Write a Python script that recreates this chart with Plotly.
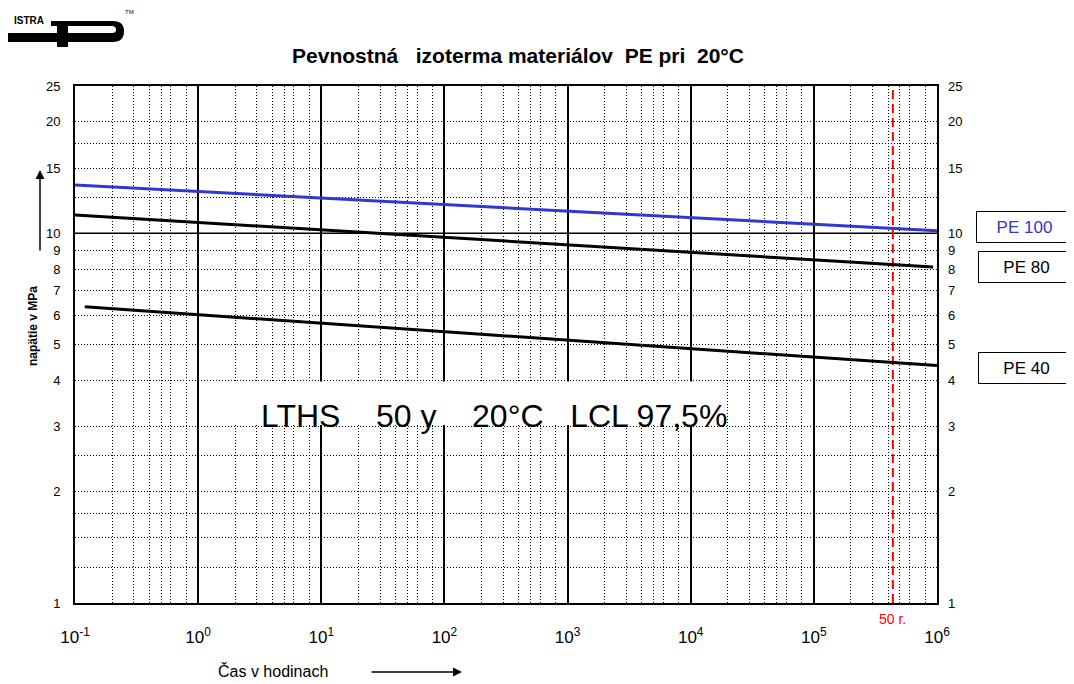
import math
import plotly.graph_objects as go

# ---------------- data ----------------
pe100_time_h = [0.1, 1.0e6]
pe100_stress = [13.5, 10.15]
pe80_time_h = [0.1, 9.3e5]
pe80_stress = [11.2, 8.1]
pe40_time_h = [0.12, 1.15e6]
pe40_stress = [6.32, 4.37]

x_decades = [0.1, 1, 10, 100, 1e3, 1e4, 1e5, 1e6]
x_tick_text = ["10<sup>-1</sup>", "10<sup>0</sup>", "10<sup>1</sup>", "10<sup>2</sup>",
               "10<sup>3</sup>", "10<sup>4</sup>", "10<sup>5</sup>", "10<sup>6</sup>"]
x_minor_mult = [2, 3, 4, 5, 6, 8]
y_tick_vals = [1, 2, 3, 4, 5, 6, 7, 8, 9, 10, 15, 20, 25]
y_tick_text = [str(v) for v in y_tick_vals]
y_dotted_grid = [1.25, 1.5, 1.75, 2, 2.5, 3, 4, 5, 6, 7, 8, 9, 12.5, 15, 17.5, 20]
y_solid_grid = [10]
lifetime_50y_h = 50 * 8760
label_box_x = [1.03, 1.9e4]
label_box_y = [3.03, 3.97]

x_minor = [m * d for d in x_decades[:-1] for m in x_minor_mult]

# ---------------- layout helpers (window pixel -> paper) ----------------
OFF = 8  # default page body margin
W, H = 1074 - OFF, 684 - OFF
L, T = 75 - OFF, 86 - OFF
R, B = 1074 - 937, 684 - 603
PW, PH = W - L - R, H - T - B


def px(x):
    return (x - OFF - L) / PW


def py(y):
    return (H - B - (y - OFF)) / PH


BLUE = "#3535d0"
FONT = "Liberation Sans, Arial, sans-serif"

fig = go.Figure()

# white background behind the LTHS text
fig.add_trace(go.Scatter(
    x=[label_box_x[0], label_box_x[1], label_box_x[1], label_box_x[0], label_box_x[0]],
    y=[label_box_y[0], label_box_y[0], label_box_y[1], label_box_y[1], label_box_y[0]],
    mode="lines", fill="toself", fillcolor="white", line=dict(width=0, color="white"),
    hoverinfo="skip", showlegend=False))

# solid horizontal grid line(s)
for v in y_solid_grid:
    fig.add_trace(go.Scatter(x=[x_decades[0], x_decades[-1]], y=[v, v], mode="lines",
                             line=dict(color="black", width=1.5), hoverinfo="skip",
                             showlegend=False))

# 50 years marker
fig.add_trace(go.Scatter(x=[lifetime_50y_h, lifetime_50y_h], y=[y_tick_vals[0], y_tick_vals[-1]],
                         mode="lines", line=dict(color="red", width=2, dash="9px,5px"),
                         hoverinfo="skip", showlegend=False))

fig.add_trace(go.Scatter(x=pe40_time_h, y=pe40_stress, mode="lines", name="PE 40",
                         line=dict(color="black", width=3), showlegend=False))
fig.add_trace(go.Scatter(x=pe80_time_h, y=pe80_stress, mode="lines", name="PE 80",
                         line=dict(color="black", width=3), showlegend=False))
fig.add_trace(go.Scatter(x=pe100_time_h, y=pe100_stress, mode="lines", name="PE 100",
                         line=dict(color=BLUE, width=3), showlegend=False))

# invisible trace for the right axis
fig.add_trace(go.Scatter(x=[x_decades[0]], y=[y_tick_vals[0]], yaxis="y2", mode="markers",
                         marker=dict(opacity=0), hoverinfo="skip", showlegend=False))

yr = [0, math.log10(y_tick_vals[-1])]

fig.update_layout(
    width=W, height=H,
    margin=dict(l=L, r=R, t=T, b=B, autoexpand=False),
    paper_bgcolor="white", plot_bgcolor="white",
    font=dict(family=FONT, color="black"),
    title=dict(text="Pevnostná\u00a0\u00a0 izoterma materiálov\u00a0 PE pri\u00a0 20°C",
               x=px(518), xref="paper", xanchor="center",
               y=1 - (56 - OFF) / H, yref="container", yanchor="middle",
               font=dict(size=21, family=FONT, color="black", weight="bold")),
    xaxis=dict(type="log", range=[-1, 6], tickmode="array", tickvals=x_decades,
               ticktext=x_tick_text, showgrid=True, gridcolor="black", gridwidth=1.5,
               minor=dict(tickmode="array", tickvals=x_minor, showgrid=True,
                          gridcolor="black", griddash="1px,2px", gridwidth=1, ticks=""),
               showline=True, linecolor="black", linewidth=2, mirror=True, ticks="",
               ticklabelstandoff=18, tickfont=dict(size=17), zeroline=False),
    yaxis=dict(type="log", range=yr, tickmode="array", tickvals=y_tick_vals,
               ticktext=y_tick_text, showgrid=False,
               minor=dict(tickmode="array", tickvals=y_dotted_grid, showgrid=True,
                          gridcolor="black", griddash="1px,2px", gridwidth=1, ticks=""),
               showline=True, linecolor="black", linewidth=2, mirror=True, ticks="",
               ticklabelstandoff=10, tickfont=dict(size=13), zeroline=False),
    yaxis2=dict(type="log", range=yr, overlaying="y", side="right", tickmode="array",
                tickvals=y_tick_vals, ticktext=y_tick_text, showgrid=False,
                showline=False, ticks="", ticklabelstandoff=10,
                tickfont=dict(size=13), zeroline=False),
)

C = dict(xanchor="center", yanchor="middle")
ann = []
# LTHS text
ann.append(dict(text="LTHS\u00a0\u00a0\u00a0 50 y\u00a0\u00a0\u00a0 20°C\u00a0\u00a0 LCL 97,5%",
                xref="paper", yref="paper", x=px(494), y=py(416), showarrow=False,
                font=dict(size=32, color="black", family=FONT), **C))
# 50 r.
ann.append(dict(text="50 r.", xref="x", x=math.log10(lifetime_50y_h), yref="paper", y=py(619),
                showarrow=False, font=dict(size=14, color="red", family=FONT), **C))
# series boxes
for txt, col, xc, yc in [("PE 100", BLUE, 1024.5, 227), ("PE 80", "black", 1026, 267),
                         ("PE 40", "black", 1026, 368)]:
    ann.append(dict(text=txt, xref="paper", yref="paper", x=px(xc), y=py(yc),
                    showarrow=False, width=93, height=28, borderpad=1, borderwidth=1,
                    bordercolor="black", bgcolor="white", align="center",
                    font=dict(size=17, color=col, family=FONT), **C))
# y axis title + arrow
ann.append(dict(text="<b>napätie v MPa</b>", xref="paper", yref="paper", x=px(33), y=py(326),
                textangle=-90, showarrow=False, font=dict(size=12, family=FONT), **C))
ann.append(dict(text="", xref="paper", yref="paper", x=px(40), y=py(170), ax=0, ay=82,
                showarrow=True, arrowhead=2, arrowsize=1.2, arrowwidth=1.5, arrowcolor="black"))
# x axis title + arrow
ann.append(dict(text="Čas v hodinach", xref="paper", yref="paper", x=px(273), y=py(671),
                showarrow=False, font=dict(size=16, family=FONT), **C))
ann.append(dict(text="", xref="paper", yref="paper", x=px(462), y=py(672), ax=-92, ay=0,
                showarrow=True, arrowhead=2, arrowsize=1.2, arrowwidth=1.5, arrowcolor="black"))
# logo text
ann.append(dict(text="<b>ISTRA</b>", xref="paper", yref="paper", x=px(29), y=py(21),
                showarrow=False, font=dict(size=10, family=FONT), **C))
ann.append(dict(text="TM", xref="paper", yref="paper", x=px(129), y=py(12),
                showarrow=False, font=dict(size=6, family=FONT), **C))
fig.update_layout(annotations=ann)


def path_px(cmds):
    out = []
    for c in cmds:
        if isinstance(c, str):
            out.append(c)
        else:
            out.append(f"{px(c[0]):.5f},{py(c[1]):.5f}")
    return " ".join(out)


shapes = []
# logo: bottom bar, top bar, stem, rounded right side
for x0, y0, x1, y1 in [(8, 33, 114, 42), (51, 21, 112, 26), (57, 21, 68, 47)]:
    shapes.append(dict(type="rect", xref="paper", yref="paper", x0=px(x0), x1=px(x1),
                       y0=py(y1), y1=py(y0), fillcolor="black", line=dict(width=0)))
curve = path_px(["M", (110, 21), "L", (113, 21), "Q", (124, 21), (124, 31), "Q", (124, 42), (113, 42),
                 "L", (110, 42), "L", (110, 33), "L", (112, 33), "Q", (116, 33), (116, 30),
                 "Q", (116, 26), (112, 26), "L", (110, 26), "Z"])
shapes.append(dict(type="path", xref="paper", yref="paper", path=curve, fillcolor="black",
                   line=dict(width=0)))
fig.update_layout(shapes=shapes)

fig.write_html("out.html")
